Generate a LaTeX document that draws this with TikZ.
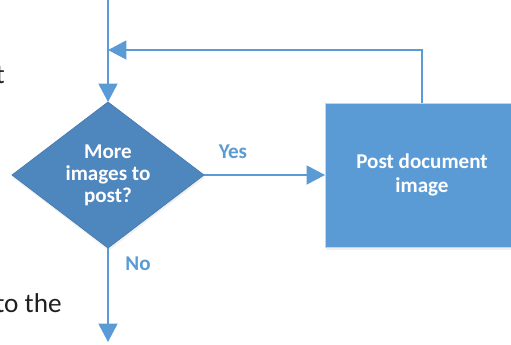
\documentclass[tikz,border=0pt]{standalone}
\usepackage{fontspec}
\setmainfont{Carlito}
\usepackage{tikz}
\usetikzlibrary{arrows.meta,shapes.geometric,shadows,positioning}
\definecolor{flowblue}{RGB}{91,155,213}
\definecolor{darkblue}{RGB}{78,134,190}
\tikzstyle{decision}=[diamond, draw=darkblue!92!black, line width=0.4pt, fill=darkblue, text=white, font=\bfseries\fontsize{12}{12.6}\selectfont, align=center, inner sep=0pt, outer sep=0pt, minimum width=3.84cm, minimum height=2.88cm, drop shadow={shadow xshift=0.4pt, shadow yshift=-1.5pt, opacity=0.12}]
\tikzstyle{process}=[rectangle, draw=gray!35, line width=0.5pt, fill=flowblue, text=white, font=\bfseries\fontsize{12}{13.6}\selectfont, align=center, outer sep=0pt, minimum width=3.88cm, minimum height=2.88cm, drop shadow={shadow xshift=0.4pt, shadow yshift=-1.5pt, opacity=0.12}]
\tikzstyle{flow}=[draw=flowblue, line width=1.1pt, -{Triangle[length=0.37cm, width=0.38cm]}]
\tikzstyle{answer}=[text=flowblue, font=\bfseries\fontsize{12}{13}\selectfont]
\tikzstyle{pagetext}=[text=black!88, font=\fontsize{15.5}{18}\selectfont, inner sep=0pt, anchor=base east]
\newcommand{\step}{\node[process]}

\begin{document}
\begin{tikzpicture}[x=0.02cm, y=-0.02cm]
            \useasboundingbox (0,0) rectangle (511,345);
            \clip (0,0) rectangle (511,345);
            \node[pagetext] (frag1) at (5,83) {t};
            \node[pagetext] (frag2) at (62,312) {to the};
            \node[decision] (more) at (108,175) {More\\images to\\post?};
            \step (post) at (422,175) {Post document\\image};
            \coordinate (in) at (108,0);
            \coordinate (join) at (108,50);
            \coordinate (turn) at (422,50);
            \coordinate (out) at (108,342);
            \node[answer] (yes) at (233,152) {Yes};
            \node[answer] (no) at (138,264) {No};
            \path[flow] (in) -- (more);
            \path[flow] (more) -- (post);
            \path[flow] (post) -- (turn) -- (join);
            \path[flow] (more) -- (out);
        \end{tikzpicture}
\end{document}
